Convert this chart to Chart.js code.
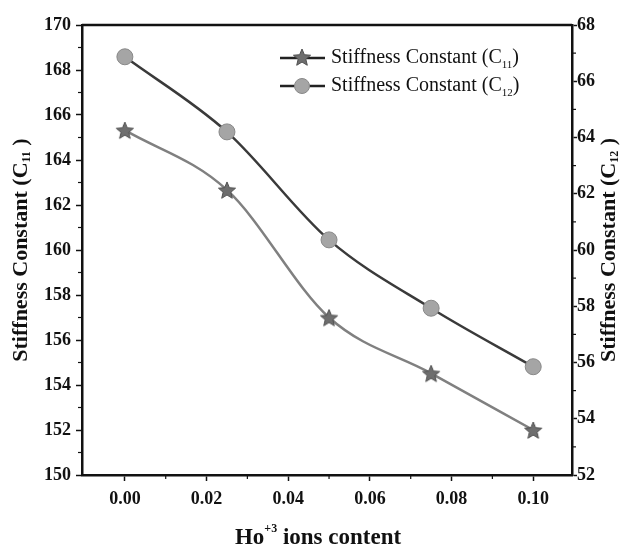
<!DOCTYPE html>
<html>
<head>
<meta charset="utf-8">
<script src="https://cdn.jsdelivr.net/npm/chart.js@4.4.1/dist/chart.umd.min.js"></script>
<style>
  html, body { margin: 0; padding: 0; background: #fff; }
  #wrap { width: 624px; height: 550px; position: relative; }
</style>
</head>
<body>
<div id="wrap"><canvas id="c"></canvas></div>
<script>
// values
const hoContent = [0.00, 0.025, 0.05, 0.075, 0.10];
const c11Values = [165.33, 162.67, 157.0, 154.52, 152.0];
const c12Values = [66.87, 64.2, 60.36, 57.93, 55.85];

const xTicks = [0.00, 0.02, 0.04, 0.06, 0.08, 0.10];
const c11Ticks = [150, 152, 154, 156, 158, 160, 162, 164, 166, 168, 170];
const c12Ticks = [52, 54, 56, 58, 60, 62, 64, 66, 68];

const SERIF = '"Liberation Serif", "DejaVu Serif", serif';
const c11Color = '#808080';
const c12Color = '#3a3a3a';

// filled five point star used as marker
function makeStar(size, fill, stroke) {
  const cv = document.createElement('canvas');
  cv.width = cv.height = size;
  const g = cv.getContext('2d');
  const cx = size / 2, cy = size / 2 + 1, R = size / 2 - 1, r = R * 0.45;
  g.beginPath();
  for (let i = 0; i < 10; i++) {
    const a = -Math.PI / 2 + i * Math.PI / 5;
    const rr = i % 2 ? r : R;
    g.lineTo(cx + rr * Math.cos(a), cy + rr * Math.sin(a));
  }
  g.closePath();
  g.fillStyle = fill;
  g.fill();
  g.strokeStyle = stroke;
  g.lineWidth = 1;
  g.stroke();
  return cv;
}
const star = makeStar(20, '#6e6e6e', '#505050');

// draws text with sub/superscript pieces, centred on x
function richText(ctx, parts, x, y) {
  let w = 0;
  parts.forEach(p => { ctx.font = p.font; w += ctx.measureText(p.t).width; });
  let cx = x - w / 2;
  ctx.textAlign = 'left';
  ctx.textBaseline = 'middle';
  parts.forEach(p => {
    ctx.font = p.font;
    ctx.fillText(p.t, cx, y + (p.dy || 0));
    cx += ctx.measureText(p.t).width;
  });
}
function leftText(ctx, parts, x, y) {
  let cx = x;
  ctx.textAlign = 'left';
  ctx.textBaseline = 'middle';
  parts.forEach(p => {
    ctx.font = p.font;
    ctx.fillText(p.t, cx, y + (p.dy || 0));
    cx += ctx.measureText(p.t).width;
  });
}

const decor = {
  id: 'decor',
  afterDraw(chart) {
    const { ctx, chartArea: a, scales } = chart;
    ctx.save();
    ctx.strokeStyle = '#111';
    ctx.fillStyle = '#111';

    // top frame line
    ctx.lineWidth = 2.5;
    ctx.beginPath();
    ctx.moveTo(a.left, a.top);
    ctx.lineTo(a.right, a.top);
    ctx.stroke();

    // minor ticks
    ctx.lineWidth = 1.2;
    const minor = (scale, from, to, step, fn) => {
      for (let v = from; v <= to + 1e-9; v += step) fn(scale.getPixelForValue(v));
    };
    minor(scales.x, 0.01, 0.09, 0.02, px => {
      ctx.beginPath(); ctx.moveTo(px, a.bottom); ctx.lineTo(px, a.bottom + 4); ctx.stroke();
    });
    minor(scales.y, 151, 169, 2, py => {
      ctx.beginPath(); ctx.moveTo(a.left, py); ctx.lineTo(a.left - 4, py); ctx.stroke();
    });
    minor(scales.y2, 53, 67, 2, py => {
      ctx.beginPath(); ctx.moveTo(a.right, py); ctx.lineTo(a.right + 4, py); ctx.stroke();
    });

    // axis titles
    const big = 'bold 22px ' + SERIF;
    const small = 'bold 12px ' + SERIF;
    ctx.save();
    ctx.translate(21, (a.top + a.bottom) / 2);
    ctx.rotate(-Math.PI / 2);
    richText(ctx, [{ t: 'Stiffness Constant (C', font: big }, { t: '11', font: small, dy: 6 }, { t: ' )', font: big }], 0, 0);
    ctx.restore();

    ctx.save();
    ctx.translate(609, (a.top + a.bottom) / 2);
    ctx.rotate(-Math.PI / 2);
    richText(ctx, [{ t: 'Stiffness Constant (C', font: big }, { t: '12', font: small, dy: 6 }, { t: ' )', font: big }], 0, 0);
    ctx.restore();

    richText(ctx, [{ t: 'Ho', font: 'bold 23px ' + SERIF }, { t: '+3', font: small, dy: -9 }, { t: ' ions content', font: 'bold 23px ' + SERIF }], 318, 538);

    // legend
    const legend = [
      { y: 58, color: c11Color, sub: '11', marker: 'star' },
      { y: 86, color: c12Color, sub: '12', marker: 'circle' }
    ];
    legend.forEach(e => {
      ctx.strokeStyle = '#222';
      ctx.lineWidth = 2.5;
      ctx.beginPath(); ctx.moveTo(280, e.y); ctx.lineTo(325, e.y); ctx.stroke();
      if (e.marker === 'star') {
        ctx.drawImage(star, 302 - 10, e.y - 11);
      } else {
        ctx.beginPath(); ctx.arc(302, e.y, 7.5, 0, Math.PI * 2);
        ctx.fillStyle = '#a5a5a5'; ctx.fill();
        ctx.strokeStyle = '#888'; ctx.lineWidth = 1; ctx.stroke();
      }
      ctx.fillStyle = '#111';
      leftText(ctx, [{ t: 'Stiffness Constant (C', font: '20px ' + SERIF }, { t: e.sub, font: '11px ' + SERIF, dy: 7 }, { t: ')', font: '20px ' + SERIF }], 331, e.y);
    });
    ctx.restore();
  }
};

const tickFont = { family: SERIF, size: 18, weight: 'bold' };

new Chart(document.getElementById('c'), {
  type: 'line',
  data: {
    datasets: [
      {
        label: 'Stiffness Constant (C11)',
        data: hoContent.map((x, i) => ({ x, y: c11Values[i] })),
        yAxisID: 'y',
        borderColor: c11Color,
        borderWidth: 2.5,
        pointStyle: star,
        pointRadius: 9,
        cubicInterpolationMode: 'monotone'
      },
      {
        label: 'Stiffness Constant (C12)',
        data: hoContent.map((x, i) => ({ x, y: c12Values[i] })),
        yAxisID: 'y2',
        borderColor: c12Color,
        borderWidth: 2.5,
        pointStyle: 'circle',
        pointRadius: 8,
        pointBackgroundColor: '#a5a5a5',
        pointBorderColor: '#888',
        pointBorderWidth: 1,
        cubicInterpolationMode: 'monotone'
      }
    ]
  },
  options: {
    responsive: true,
    maintainAspectRatio: false,
    animation: false,
    layout: { padding: { top: 25 } },
    plugins: { legend: { display: false }, tooltip: { enabled: false } },
    scales: {
      x: {
        type: 'linear',
        min: -0.0105,
        max: 0.1095,
        afterBuildTicks: s => { s.ticks = xTicks.map(v => ({ value: v })); },
        afterFit: s => { s.height = 75; },
        ticks: { font: tickFont, color: '#111', padding: 8, maxRotation: 0, callback: v => v.toFixed(2) },
        grid: { drawOnChartArea: false, tickLength: 6, tickColor: '#111', tickWidth: 1.5 },
        border: { color: '#111', width: 2.5 }
      },
      y: {
        position: 'left',
        min: 150,
        max: 170,
        afterBuildTicks: s => { s.ticks = c11Ticks.map(v => ({ value: v })); },
        afterFit: s => { s.width = 82; },
        ticks: { font: tickFont, color: '#111', padding: 5 },
        grid: { drawOnChartArea: false, tickLength: 6, tickColor: '#111', tickWidth: 1.5 },
        border: { color: '#111', width: 2.5 }
      },
      y2: {
        position: 'right',
        min: 52,
        max: 68,
        afterBuildTicks: s => { s.ticks = c12Ticks.map(v => ({ value: v })); },
        afterFit: s => { s.width = 52; },
        ticks: { font: tickFont, color: '#111', padding: 0 },
        grid: { drawOnChartArea: false, tickLength: 5, tickColor: '#111', tickWidth: 1.5 },
        border: { color: '#111', width: 2.5 }
      }
    }
  },
  plugins: [decor]
});
</script>
</body>
</html>
